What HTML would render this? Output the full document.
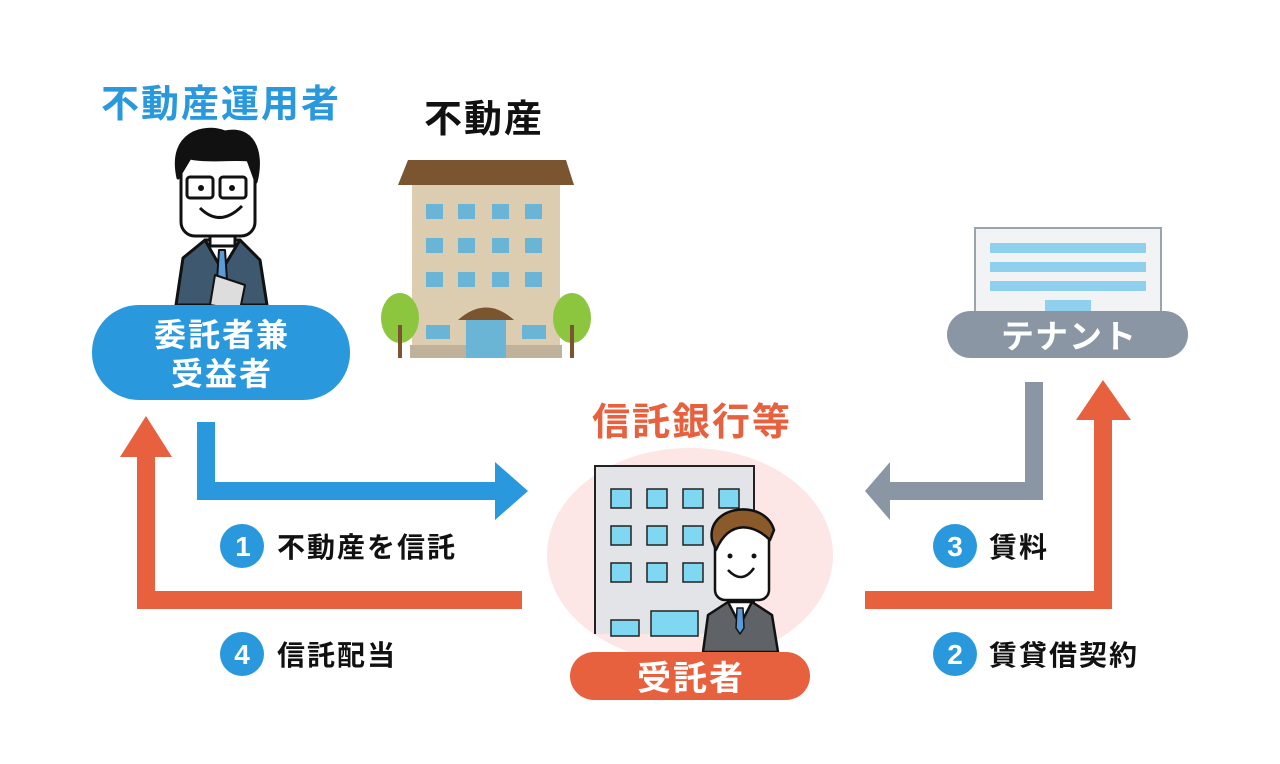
<!DOCTYPE html>
<html><head><meta charset="utf-8"><style>
html,body{margin:0;padding:0;background:#fff;}
svg{display:block;}
text{font-family:"Liberation Sans","Noto Sans CJK JP",sans-serif;font-weight:bold;}
</style></head><body>
<svg width="1280" height="764" viewBox="0 0 1280 764" xmlns="http://www.w3.org/2000/svg">
<ellipse cx="690" cy="555" rx="143" ry="107" fill="#fde6e6"/>
<!-- titles -->
<text x="221" y="117" font-size="38" letter-spacing="2" fill="#2a98dc" text-anchor="middle">不動産運用者</text>
<text x="484" y="132" font-size="38" letter-spacing="2" fill="#111" text-anchor="middle">不動産</text>
<text x="692" y="435" font-size="38" letter-spacing="2" fill="#e8613e" text-anchor="middle">信託銀行等</text>

<!-- man 1 -->
<g stroke="#111" stroke-width="3" stroke-linejoin="round">
<path d="M176 305 L183 258 L205 240 L240 240 L260 260 L267 305 Z" fill="#3e5870"/>
<path d="M205 240 L222 270 L240 240 Z" fill="#fff"/>
<path d="M219 250 L225 250 L227 280 L222 286 L217 280 Z" fill="#5a9ad6" stroke-width="2"/>
<rect x="210" y="230" width="25" height="16" fill="#fff"/>
<rect x="181" y="148" width="74" height="88" rx="14" fill="#fff"/>
<path d="M178 178 C168 132 205 124 225 132 C252 126 264 150 256 182 L248 160 C235 158 210 162 190 158 Z" fill="#111"/>
<rect x="187" y="177" width="26" height="21" rx="3" fill="none"/>
<rect x="220" y="177" width="26" height="21" rx="3" fill="none"/>
<path d="M200 208 Q220 228 242 206" fill="none"/>
<path d="M215 275 L245 285 L240 310 L210 305 Z" fill="#ddd" stroke-width="2"/>
</g>
<circle cx="201" cy="188" r="3" fill="#111"/><circle cx="232" cy="188" r="3" fill="#111"/>

<rect x="92" y="305" width="258" height="95" rx="47" fill="#2a98dc"/>
<text x="222" y="346" font-size="32" letter-spacing="2" fill="#fff" text-anchor="middle">委託者兼</text>
<text x="222" y="385" font-size="32" letter-spacing="2" fill="#fff" text-anchor="middle">受益者</text>

<!-- building -->
<polygon points="408,160 566,160 574,185 398,185" fill="#7a5530"/>
<rect x="412" y="185" width="148" height="162" fill="#dccdb0"/>
<rect x="410" y="345" width="152" height="13" fill="#c0b29a"/>
<g fill="#6ab4d6">
<rect x="426" y="204" width="17" height="15"/><rect x="458" y="204" width="17" height="15"/><rect x="492" y="204" width="17" height="15"/><rect x="525" y="204" width="17" height="15"/>
<rect x="426" y="238" width="17" height="15"/><rect x="458" y="238" width="17" height="15"/><rect x="492" y="238" width="17" height="15"/><rect x="525" y="238" width="17" height="15"/>
<rect x="426" y="272" width="17" height="15"/><rect x="458" y="272" width="17" height="15"/><rect x="492" y="272" width="17" height="15"/><rect x="525" y="272" width="17" height="15"/>
<rect x="426" y="325" width="24" height="14"/><rect x="522" y="325" width="24" height="14"/>
<rect x="466" y="318" width="40" height="40"/>
</g>
<path d="M458 320 Q486 295 514 320 Z" fill="#7a5530"/>
<ellipse cx="400" cy="318" rx="19" ry="25" fill="#8cc63f"/><rect x="398" y="325" width="4" height="33" fill="#7a5530"/>
<ellipse cx="572" cy="318" rx="19" ry="25" fill="#8cc63f"/><rect x="570" y="325" width="4" height="33" fill="#7a5530"/>

<!-- tenant -->
<rect x="975" y="228" width="186" height="90" fill="#f2f3f5" stroke="#9aa4ad" stroke-width="2"/>
<rect x="990" y="243" width="156" height="10" fill="#8fd0ee"/>
<rect x="990" y="262" width="156" height="10" fill="#8fd0ee"/>
<rect x="990" y="281" width="156" height="10" fill="#8fd0ee"/>
<rect x="1045" y="300" width="46" height="14" fill="#8fd0ee"/>
<rect x="947" y="311" width="241" height="47" rx="23.5" fill="#8a96a3"/>
<text x="1069" y="348" font-size="33" letter-spacing="1" fill="#fff" text-anchor="middle">テナント</text>

<!-- bank -->
<path d="M595 634 V466 H754 V634" fill="#e2e4e7" stroke="#222" stroke-width="2"/>
<g fill="#7fd7f2" stroke="#222" stroke-width="1.5">
<rect x="611" y="489" width="20" height="19"/><rect x="647" y="489" width="20" height="19"/><rect x="683" y="489" width="20" height="19"/><rect x="719" y="489" width="20" height="19"/>
<rect x="611" y="526" width="20" height="19"/><rect x="647" y="526" width="20" height="19"/><rect x="683" y="526" width="20" height="19"/>
<rect x="611" y="563" width="20" height="19"/><rect x="647" y="563" width="20" height="19"/><rect x="683" y="563" width="20" height="19"/>
<rect x="611" y="620" width="28" height="16"/><rect x="651" y="611" width="47" height="25"/>
</g>
<g stroke="#111" stroke-width="2.5" stroke-linejoin="round">
<path d="M703 652 L708 615 L728 602 L752 602 L772 615 L778 652 Z" fill="#5f6266"/>
<path d="M728 602 L740 625 L752 602 Z" fill="#fff"/>
<path d="M737 608 L743 608 L744 628 L740 634 L736 628 Z" fill="#5a9ad6" stroke-width="1.5"/>
<rect x="715" y="520" width="54" height="80" rx="10" fill="#fff"/>
<path d="M712 540 C706 505 765 498 774 530 L770 540 C755 525 730 518 716 550 Z" fill="#8a5a2b"/>
<path d="M728 570 Q742 585 754 568" fill="none"/>
</g>
<circle cx="730" cy="556" r="2.5" fill="#111"/><circle cx="754" cy="556" r="2.5" fill="#111"/>
<rect x="570" y="652" width="240" height="48" rx="24" fill="#e8613e"/>
<text x="691" y="690" font-size="34" letter-spacing="2" fill="#fff" text-anchor="middle">受託者</text>

<!-- arrows -->
<path d="M197 422 H215 V482 H495 V462 L528 491 L495 520 V500 H197 Z" fill="#2a98dc"/>
<path d="M522 591 V609 H137 V457 H120 L146 416 L172 457 H155 V591 Z" fill="#e8613e"/>
<path d="M1025 382 H1043 V500 H890 V520 L865 491 L890 462 V482 H1025 Z" fill="#8a96a3"/>
<path d="M865 591 H1094 V420 H1076 L1103 380 L1131 420 H1112 V609 H865 Z" fill="#e8613e"/>

<!-- labels -->
<g font-size="28" letter-spacing="2">
<circle cx="242" cy="546" r="22" fill="#2a98dc"/><text x="243" y="556" fill="#fff" text-anchor="middle" font-size="28" letter-spacing="0">1</text>
<text x="277" y="557" fill="#111">不動産を信託</text>
<circle cx="242" cy="654" r="22" fill="#2a98dc"/><text x="242" y="664" fill="#fff" text-anchor="middle" font-size="28" letter-spacing="0">4</text>
<text x="277" y="665" fill="#111">信託配当</text>
<circle cx="955" cy="546" r="22" fill="#2a98dc"/><text x="955" y="556" fill="#fff" text-anchor="middle" font-size="28" letter-spacing="0">3</text>
<text x="989" y="557" fill="#111">賃料</text>
<circle cx="955" cy="654" r="22" fill="#2a98dc"/><text x="955" y="664" fill="#fff" text-anchor="middle" font-size="28" letter-spacing="0">2</text>
<text x="989" y="665" fill="#111">賃貸借契約</text>
</g>
</svg>
</body></html>
